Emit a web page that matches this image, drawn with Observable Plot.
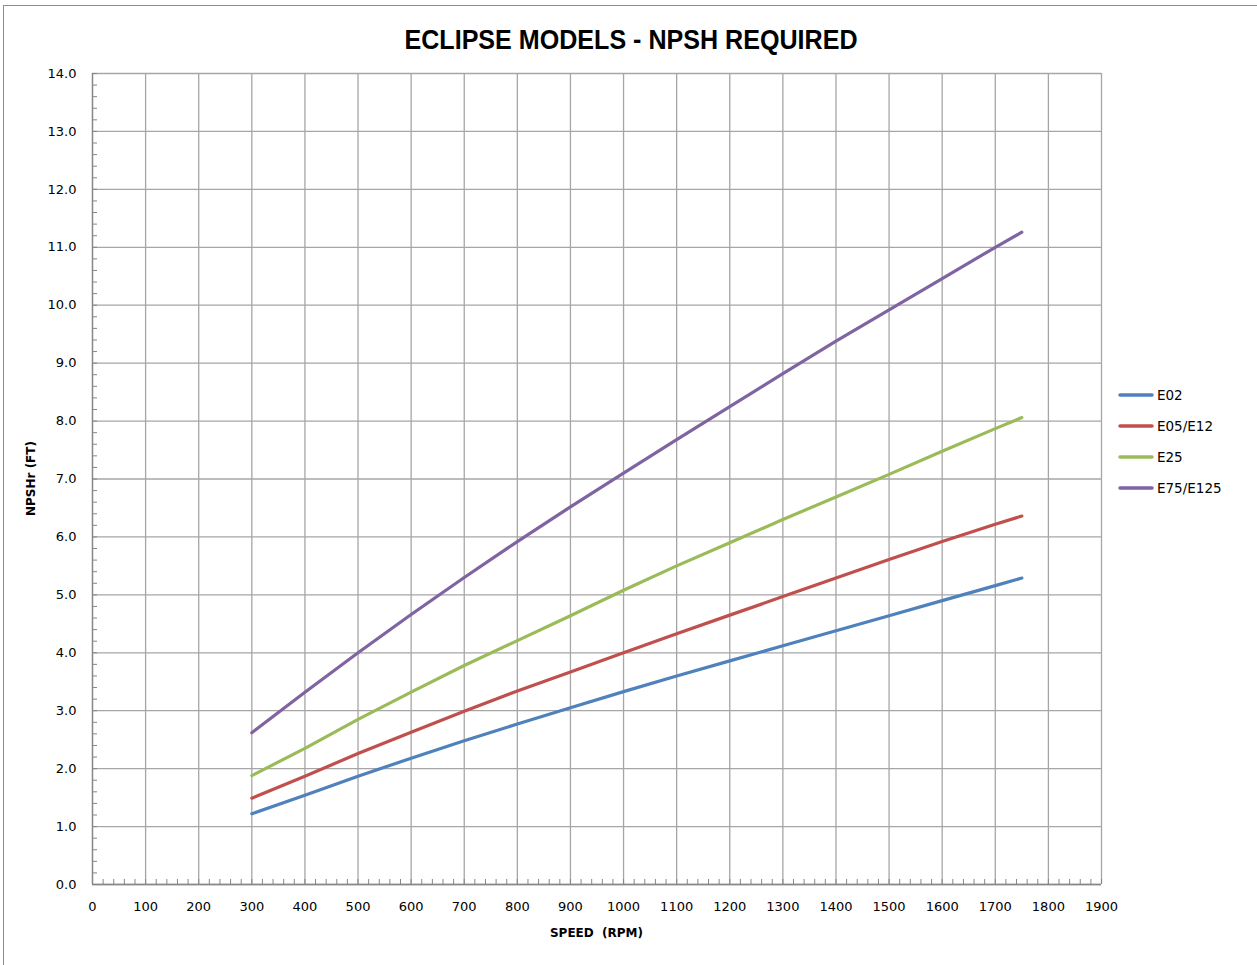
<!DOCTYPE html>
<html>
<head>
<meta charset="utf-8">
<script src="https://cdn.jsdelivr.net/npm/d3@7"></script>
<script src="https://cdn.jsdelivr.net/npm/@observablehq/plot@0.6"></script>
<style>
  html, body { margin: 0; padding: 0; background: #fff; }
</style>
</head>
<body>
<div id="chart"></div>
<script>
// ---- data ----
const rpm = [300, 400, 500, 600, 700, 800, 900, 1000, 1100, 1200, 1300, 1400, 1500, 1600, 1700, 1750];
const e02 = [1.22, 1.54, 1.87, 2.18, 2.48, 2.77, 3.05, 3.33, 3.60, 3.86, 4.12, 4.38, 4.64, 4.90, 5.16, 5.29];
const e05e12 = [1.49, 1.87, 2.26, 2.63, 2.99, 3.34, 3.67, 4.00, 4.33, 4.65, 4.97, 5.29, 5.61, 5.92, 6.22, 6.36];
const e25 = [1.88, 2.35, 2.85, 3.32, 3.78, 4.21, 4.64, 5.08, 5.50, 5.90, 6.30, 6.69, 7.08, 7.48, 7.87, 8.06];
const e75e125 = [2.62, 3.32, 4.00, 4.66, 5.30, 5.92, 6.52, 7.10, 7.68, 8.25, 8.82, 9.38, 9.92, 10.46, 11.00, 11.26];
const seriesNames = ["E02", "E05/E12", "E25", "E75/E125"];
const seriesValues = [e02, e05e12, e25, e75e125];
const seriesColors = ["#4F81BD", "#C0504D", "#9BBB59", "#8064A2"];
const xTicks = d3.range(0, 1901, 100);
const yTicks = d3.range(0, 14.01, 1);
const xMinor = d3.range(0, 1901, 20);
const yMinor = d3.range(0, 70.01, 1).map(d => d / 5);
const titleText = "ECLIPSE MODELS - NPSH REQUIRED";
const xLabel = "SPEED  (RPM)";
const yLabel = "NPSHr (FT)";

const data = seriesNames.flatMap((s, i) => rpm.map((r, j) => ({series: s, rpm: r, v: seriesValues[i][j]})));

const W = 1257, H = 965;
const mL = 92, mR = 156, mT = 73, mB = 81;
const gridColor = "#a6a6a6";
const axisColor = "#868686";

const chart = Plot.plot({
  width: W, height: H,
  marginLeft: mL, marginRight: mR, marginTop: mT, marginBottom: mB,
  style: {fontFamily: "DejaVu Sans, Verdana, sans-serif", fontSize: "13px", color: "#000", background: "#fff", overflow: "visible"},
  x: {domain: [0, 1900]},
  y: {domain: [0, 14]},
  color: {domain: seriesNames, range: seriesColors},
  marks: [
    Plot.gridX(xTicks, {stroke: gridColor, strokeOpacity: 1, strokeWidth: 1.3}),
    Plot.gridY(yTicks, {stroke: gridColor, strokeOpacity: 1, strokeWidth: 1.3}),
    Plot.axisX(xMinor, {tickSize: -5, text: null, stroke: axisColor, label: null}),
    Plot.axisY(yMinor, {tickSize: -5, text: null, stroke: axisColor, label: null}),
    Plot.axisX(xTicks, {tickSize: 0, tickPadding: 17, label: null, tickFormat: d => String(d), fill: "#000"}),
    Plot.axisY(yTicks, {tickSize: 0, tickPadding: 16, label: null, tickFormat: d => d.toFixed(1), fill: "#000"}),
    Plot.ruleX([0], {stroke: axisColor, strokeWidth: 1.3}),
    Plot.ruleY([0], {stroke: axisColor, strokeWidth: 1.3}),
    Plot.line(data, {x: "rpm", y: "v", z: "series", stroke: "series", strokeWidth: 3.2, strokeLinecap: "round", strokeLinejoin: "round", curve: "linear"})
  ]
});

document.getElementById("chart").appendChild(chart);
const svg = d3.select(chart);

// outer chart border
svg.insert("rect", ":first-child")
  .attr("x", 3.5).attr("y", 5.5).attr("width", W + 10).attr("height", H + 10)
  .attr("fill", "none").attr("stroke", "#8c8c8c").attr("stroke-width", 1);

// title
svg.append("text")
  .attr("x", 631).attr("y", 49)
  .attr("text-anchor", "middle")
  .attr("font-family", "Liberation Sans, Arial, sans-serif")
  .attr("font-weight", "bold")
  .attr("font-size", 27)
  .attr("textLength", 453).attr("lengthAdjust", "spacingAndGlyphs")
  .attr("fill", "#000")
  .text(titleText);

// x axis label
svg.append("text")
  .attr("x", mL + (W - mL - mR) / 2).attr("y", 937)
  .attr("text-anchor", "middle")
  .attr("font-family", "DejaVu Sans, Verdana, sans-serif")
  .attr("font-weight", "bold").attr("font-size", 12)
  .attr("fill", "#000")
  .text(xLabel);

// y axis label
svg.append("text")
  .attr("transform", `translate(35,${mT + (H - mT - mB) / 2}) rotate(-90)`)
  .attr("text-anchor", "middle")
  .attr("font-family", "DejaVu Sans, Verdana, sans-serif")
  .attr("font-weight", "bold").attr("font-size", 12)
  .attr("fill", "#000")
  .text(yLabel);

// legend
const lg = svg.append("g").attr("transform", "translate(1119,395)");
seriesNames.forEach((name, i) => {
  const g = lg.append("g").attr("transform", `translate(0,${i * 31})`);
  g.append("line").attr("x1", 1).attr("x2", 33).attr("y1", 0).attr("y2", 0)
    .attr("stroke", seriesColors[i]).attr("stroke-width", 3.5).attr("stroke-linecap", "round");
  g.append("text").attr("x", 38).attr("y", 0).attr("dy", "0.35em")
    .attr("text-anchor", "start")
    .attr("font-family", "DejaVu Sans, Verdana, sans-serif").attr("font-size", 13.5)
    .attr("fill", "#000")
    .text(name);
});
</script>
</body>
</html>
